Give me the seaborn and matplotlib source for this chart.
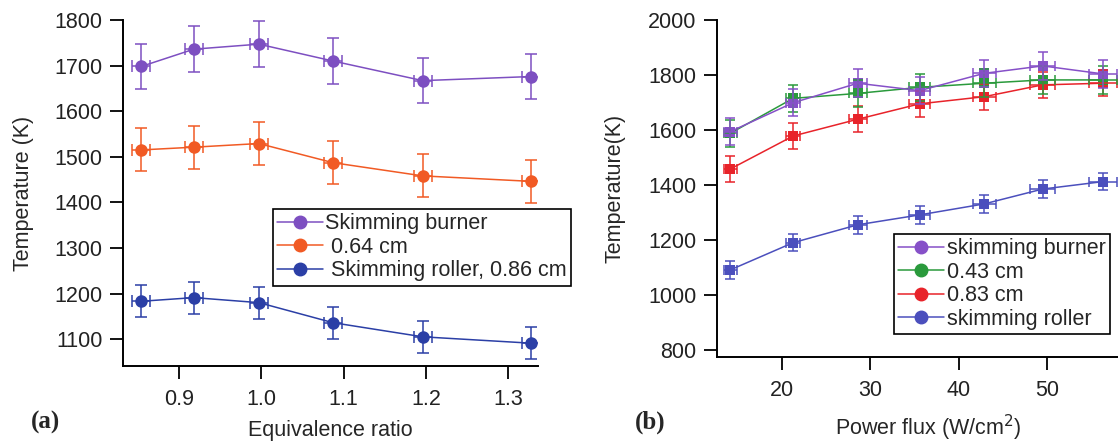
import matplotlib
matplotlib.use("Agg")
import matplotlib.pyplot as plt
from matplotlib.lines import Line2D
import seaborn as sns
import pandas as pd

# (a) temperature vs equivalence ratio --------------------------------------------
phi = [0.854, 0.918, 0.997, 1.087, 1.196, 1.328]
phi_err = 0.011
temp_burner_a = [1698, 1736, 1747, 1710, 1667, 1676]
temp_064 = [1515, 1521, 1529, 1487, 1458, 1446]
temp_roller_a = [1183, 1191, 1180, 1136, 1105, 1091]
labels_a = ["Skimming burner", " 0.64 cm", " Skimming roller, 0.86 cm"]
yerr_a = [50, 47, 35]
colors_a = ["#7d4fc1", "#f15a24", "#2b3fa6"]

# (b) temperature vs power flux ------------------------------------------------------
flux = [14.2, 21.3, 28.6, 35.6, 42.9, 49.5, 56.3]
flux_err = [0.7, 0.8, 1.0, 1.15, 1.3, 1.45, 1.6]
temp_burner_b = [1594, 1699, 1770, 1743, 1806, 1833, 1804]
temp_043 = [1588, 1715, 1733, 1755, 1770, 1782, 1782]
temp_083 = [1458, 1578, 1639, 1695, 1721, 1764, 1770]
temp_roller_b = [1091, 1190, 1255, 1291, 1331, 1385, 1412]
labels_b = ["skimming burner", "0.43 cm", "0.83 cm", "skimming roller"]
yerr_b = [50, 50, 48, 32]
colors_b = ["#8650c8", "#2a9a3c", "#e8232a", "#4b4fbd"]

sns.set_theme(style="ticks")
plt.rcParams["font.family"] = ["Liberation Sans", "DejaVu Sans"]
FS = 15.5

fig = plt.figure(figsize=(11.18, 4.43), dpi=100)
fig.patch.set_facecolor("white")
ax1 = fig.add_axes([122.7 / 1118, 77 / 443, 415.3 / 1118, 346 / 443])
ax2 = fig.add_axes([716.7 / 1118, 85.7 / 443, 422.3 / 1118, 337.3 / 443])

# panel a
df_a = pd.DataFrame({
    "phi": phi * 3,
    "T": temp_burner_a + temp_064 + temp_roller_a,
    "series": [labels_a[0]] * 6 + [labels_a[1]] * 6 + [labels_a[2]] * 6,
})
sns.lineplot(data=df_a, x="phi", y="T", hue="series", hue_order=labels_a,
             palette=colors_a, marker="o", markersize=9, markeredgewidth=0,
             linewidth=1.1, legend=False, ax=ax1)
for lab, col, ye in zip(labels_a, colors_a, yerr_a):
    sub = df_a[df_a["series"] == lab]
    ax1.errorbar(sub["phi"], sub["T"], xerr=phi_err, yerr=ye, fmt="none",
                 ecolor=col, elinewidth=1.1, capsize=4.3, capthick=1.1)

ax1.set_xlim(0.8316, 1.336)
ax1.set_ylim(1041, 1800)
ax1.set_xticks([0.9, 1.0, 1.1, 1.2, 1.3])
ax1.set_yticks(range(1100, 1801, 100))
ax1.set_xlabel("Equivalence ratio", fontsize=FS)
ax1.set_ylabel("Temperature (K)", fontsize=FS)
ax1.xaxis.set_label_coords(0.5, -0.155)
ax1.yaxis.set_label_coords(-0.214, 0.5)
h_a = [Line2D([], [], color=c, marker="o", markersize=9, linewidth=1.1) for c in colors_a]
leg = ax1.legend(h_a, labels_a, loc="upper left", bbox_to_anchor=(0.362, 0.454),
                 fontsize=FS, frameon=True, fancybox=False, framealpha=1,
                 edgecolor="black", handlelength=2.1, handletextpad=0.1,
                 labelspacing=0.12, borderpad=0.2, borderaxespad=0)
leg.get_frame().set_linewidth(1.2)

# panel b
order = [3, 2, 1, 0]
df_b = pd.DataFrame({
    "flux": flux * 4,
    "T": temp_burner_b + temp_043 + temp_083 + temp_roller_b,
    "series": sum([[l] * 7 for l in labels_b], []),
})
sns.lineplot(data=df_b, x="flux", y="T", hue="series",
             hue_order=[labels_b[i] for i in order],
             palette=[colors_b[i] for i in order], marker="s", markersize=6.5,
             markeredgewidth=0, linewidth=1.1, legend=False, ax=ax2)
for i in order:
    sub = df_b[df_b["series"] == labels_b[i]]
    ax2.errorbar(sub["flux"], sub["T"], xerr=flux_err, yerr=yerr_b[i], fmt="none",
                 ecolor=colors_b[i], elinewidth=1.1, capsize=3.6, capthick=1.1)

ax2.set_xlim(12.66, 60.4)
ax2.set_ylim(773, 2000)
ax2.set_xticks([20, 30, 40, 50])
ax2.set_yticks(range(800, 2001, 200))
ax2.set_xlabel("Power flux (W/cm$^2$)", fontsize=FS)
ax2.set_ylabel("Temperature(K)", fontsize=FS)
ax2.xaxis.set_label_coords(0.5, -0.165)
ax2.yaxis.set_label_coords(-0.217, 0.5)
h_b = [Line2D([], [], color=c, marker="o", markersize=9, linewidth=1.1) for c in colors_b]
leg = ax2.legend(h_b, labels_b, loc="upper left", bbox_to_anchor=(0.42, 0.366),
                 fontsize=FS, frameon=True, fancybox=False, framealpha=1,
                 edgecolor="black", handlelength=2.1, handletextpad=0.15,
                 labelspacing=0.12, borderpad=0.2, borderaxespad=0)
leg.get_frame().set_linewidth(1.2)

for ax in (ax1, ax2):
    sns.despine(ax=ax)
    ax.set_facecolor("white")
    for s in ("left", "bottom"):
        ax.spines[s].set_color("black")
        ax.spines[s].set_linewidth(1.4)
    ax.tick_params(axis="both", direction="out", length=9.5, width=1.3,
                   color="black", labelsize=FS, labelcolor="#222222", pad=5)
    ax.tick_params(axis="x", pad=7)
    ax.grid(False)

fig.text(45 / 1118, 1 - 422 / 443, "(a)", family=["Liberation Serif", "DejaVu Serif"],
         fontweight="bold", fontsize=18, ha="center", va="center")
fig.text(650 / 1118, 1 - 422 / 443, "(b)", family=["Liberation Serif", "DejaVu Serif"],
         fontweight="bold", fontsize=18, ha="center", va="center")

fig.savefig("out.png", dpi=100, facecolor="white")
